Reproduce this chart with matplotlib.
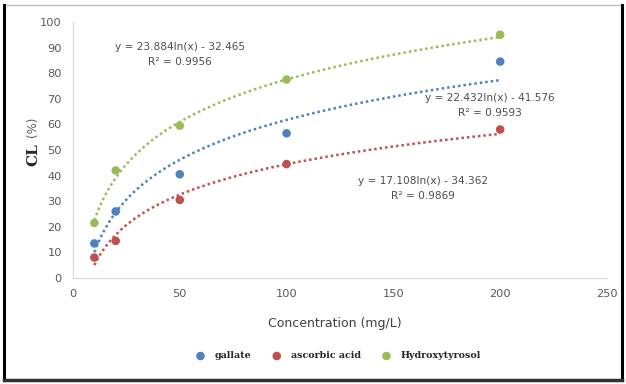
import matplotlib.pyplot as plt
import numpy as np
from matplotlib.lines import Line2D

# data
conc = [10, 20, 50, 100, 200]
gallate = [13.5, 26, 40.5, 56.5, 84.5]
ascorbic = [8, 14.5, 30.5, 44.5, 58]
hydroxy = [21.5, 42, 59.5, 77.5, 95]

# trendline coefficients y = a*ln(x) + b, as printed on the chart
names = ['gallate', 'ascorbic acid', 'Hydroxytyrosol']
slopes = [22.432, 17.108, 23.884]
intercepts = [-41.576, -34.362, -32.465]
r2 = [0.9593, 0.9869, 0.9956]

colors = ['#4F81BD', '#C0504D', '#9BBB59']
series = [gallate, ascorbic, hydroxy]

fig = plt.figure(figsize=(6.26, 3.84), dpi=100)
ax = fig.add_axes([0.1166, 0.276, 0.853, 0.667])

xs = np.linspace(10, 200, 200)
for vals, a, b, c, n in zip(series, slopes, intercepts, colors, names):
    ax.plot(xs, a * np.log(xs) + b, ls=(0, (1, 1.2)), lw=1.8, color=c, zorder=2)
    ax.scatter(conc, vals, s=38, color=c, zorder=3, label=n, edgecolors='none')

ax.set_xlim(0, 250)
ax.set_ylim(0, 100)
ax.set_xticks(range(0, 251, 50))
ax.set_yticks(range(0, 101, 10))
ax.tick_params(length=0, labelsize=8.2, labelcolor='#595959', pad=8)
for s in ['top', 'right']:
    ax.spines[s].set_visible(False)
for s in ['left', 'bottom']:
    ax.spines[s].set_color('#d9d9d9')
    ax.spines[s].set_linewidth(0.9)

# equation labels
eq_pos = [(490, 98), (423, 181), (180, 47)]
for (px, py), a, b, r in zip(eq_pos, slopes, intercepts, r2):
    fx = px / 626
    fy = 1 - py / 384
    fig.text(fx, fy, f'y = {a:.3f}ln(x) - {abs(b):.3f}', ha='center', va='center',
             fontsize=7.6, color='#4d4d4d')
    fig.text(fx, fy - 15 / 384, f'R² = {r:.4f}', ha='center', va='center',
             fontsize=7.6, color='#4d4d4d')

# axis titles
fig.text(33 / 626, 1 - 155 / 384, 'CL', rotation=90, ha='center', va='center',
         fontsize=11, fontweight='bold', family='DejaVu Serif', color='#262626')
fig.text(33 / 626, 1 - 127 / 384, '(%)', rotation=90, ha='center', va='center',
         fontsize=8.5, color='#595959')
fig.text(335 / 626, 1 - 323 / 384, 'Concentration (mg/L)', ha='center', va='center',
         fontsize=9, color='#404040')

leg = fig.legend(loc='center', bbox_to_anchor=(336 / 626, 1 - 356 / 384), ncol=3,
                 frameon=False, handletextpad=0.5, columnspacing=1.7,
                 prop={'family': 'DejaVu Serif', 'weight': 'bold', 'size': 6.8})
for t in leg.get_texts():
    t.set_color('#262626')

# outer frame
fig.add_artist(Line2D([4 / 626, 622 / 626], [1 - 5 / 384] * 2, color='#bfbfbf', lw=1))
fig.add_artist(Line2D([4 / 626] * 2, [1 - 5 / 384, 1 - 380 / 384], color='black', lw=2.2))
fig.add_artist(Line2D([622 / 626] * 2, [1 - 5 / 384, 1 - 380 / 384], color='black', lw=2.2))
fig.add_artist(Line2D([4 / 626, 622 / 626], [1 - 380 / 384] * 2, color='#303030', lw=2.5))

fig.savefig('out.png', dpi=100)
